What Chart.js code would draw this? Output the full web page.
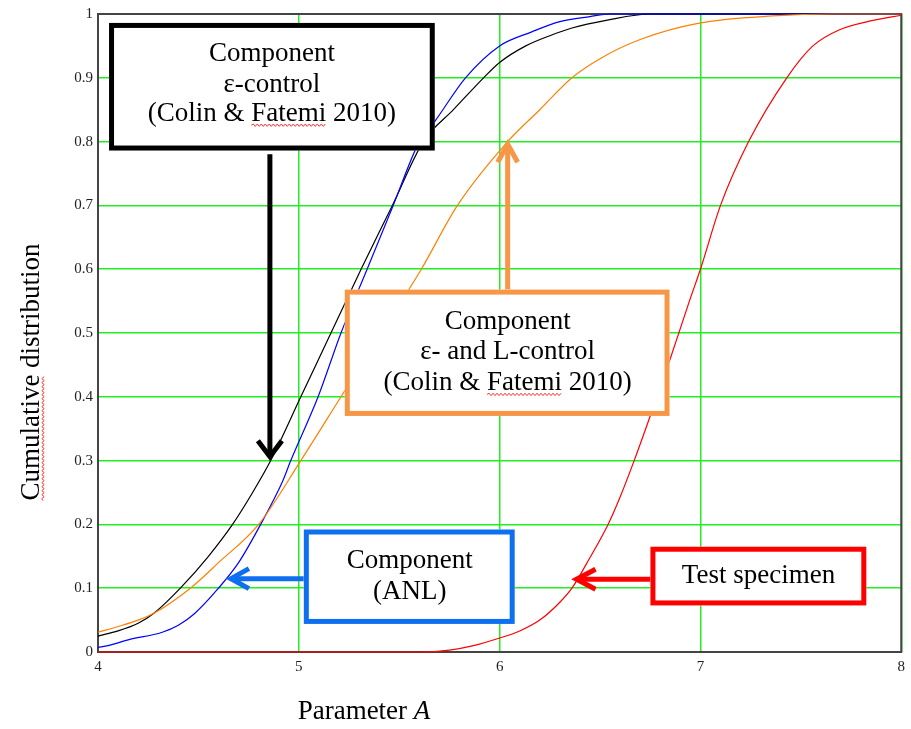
<!DOCTYPE html>
<html><head><meta charset="utf-8">
<script src="https://cdn.jsdelivr.net/npm/chart.js@4/dist/chart.umd.min.js"></script>
<style>html,body{margin:0;padding:0;background:#fff}#wrap{width:911px;height:729px}</style>
</head><body><div id="wrap"><canvas id="c" width="911" height="729"></canvas></div>
<script>
// ---- data ----
const xTickValues = [4, 5, 6, 7, 8];
const yTickValues = [0, 0.1, 0.2, 0.3, 0.4, 0.5, 0.6, 0.7, 0.8, 0.9, 1];

const blackX = [4.0, 4.1, 4.2, 4.28, 4.41, 4.55, 4.67, 4.77, 4.86, 5.01, 5.16, 5.31, 5.466, 5.62, 5.77, 5.92, 6.0, 6.13, 6.25, 6.36, 6.53, 6.75, 8.0];
const blackY = [0.025, 0.033, 0.045, 0.061, 0.10, 0.15, 0.20, 0.25, 0.30, 0.40, 0.50, 0.60, 0.70, 0.80, 0.85, 0.90, 0.924, 0.95, 0.966, 0.978, 0.99, 1.0, 1.0];

const blueX = [4.0, 4.05, 4.15, 4.32, 4.4, 4.48, 4.6, 4.7, 4.81, 4.92, 4.96, 5.096, 5.21, 5.34, 5.47, 5.60, 5.68, 5.83, 6.0, 6.16, 6.3, 6.45, 6.55, 8.0];
const blueY = [0.007, 0.01, 0.019, 0.031, 0.042, 0.06, 0.10, 0.14, 0.20, 0.268, 0.30, 0.40, 0.50, 0.60, 0.70, 0.80, 0.833, 0.90, 0.95, 0.972, 0.988, 0.996, 1.0, 1.0];

const orangeX = [4.0, 4.1, 4.2, 4.28, 4.46, 4.6, 4.8, 5.01, 5.21, 5.41, 5.61, 5.79, 6.04, 6.2, 6.36, 6.5, 6.7, 7.0, 7.36, 7.66, 8.0];
const orangeY = [0.031, 0.04, 0.05, 0.061, 0.10, 0.14, 0.20, 0.30, 0.40, 0.50, 0.60, 0.70, 0.80, 0.85, 0.90, 0.93, 0.96, 0.986, 0.997, 1.0, 1.0];

const redX = [4.0, 5.61, 5.75, 5.87, 6.0, 6.1, 6.2, 6.3, 6.36, 6.45, 6.54, 6.6, 6.67, 6.75, 6.85, 6.945, 7.0, 7.1, 7.24, 7.43, 7.56, 7.69, 7.86, 8.0];
const redY = [0, 0, 0.003, 0.01, 0.022, 0.033, 0.05, 0.078, 0.10, 0.148, 0.20, 0.243, 0.30, 0.37, 0.46, 0.55, 0.60, 0.70, 0.80, 0.90, 0.95, 0.975, 0.99, 0.998];

const xTitle = 'Parameter ';
const xTitleItalic = 'A';
const yTitle = 'Cumulative distribution';

// ---- annotation layout (data coordinates) ----
const notes = [
  {color: '#000000', box: [4.055, 5.677, 0.986, 0.786], textX: 4.866,
   lines: ['Component', 'ε-control', '(Colin & Fatemi 2010)'], base: [0.927, 0.878, 0.832],
   from: [4.856, 0.780], to: [4.856, 0.303], head: [18, 12], squiggle: [2, '(Colin & ', 'Fatemi']},
  {color: '#F79646', box: [5.229, 6.846, 0.568, 0.370], textX: 6.04,
   lines: ['Component', 'ε- and L-control', '(Colin & Fatemi 2010)'], base: [0.507, 0.459, 0.410],
   from: [6.04, 0.568], to: [6.04, 0.799], head: [20, 10], squiggle: [2, '(Colin & ', 'Fatemi']},
  {color: '#0E6FF0', box: [5.025, 6.075, 0.192, 0.044], textX: 5.552,
   lines: ['Component', '(ANL)'], base: [0.131, 0.083],
   from: [5.025, 0.115], to: [4.652, 0.115], head: [20, 10]},
  {color: '#FF0000', box: [6.751, 7.826, 0.165, 0.073], textX: 7.289,
   lines: ['Test specimen'], base: [0.108],
   from: [6.751, 0.114], to: [6.373, 0.114], head: [21, 10]}
];

const SERIF = '"Liberation Serif", "Times New Roman", serif';

function pts(xs, ys) { return xs.map((x, i) => ({x: x, y: ys[i]})); }

function squiggle(ctx, x0, x1, y) {
  ctx.save();
  ctx.strokeStyle = '#ff3030';
  ctx.lineWidth = 1;
  ctx.beginPath();
  let up = true;
  ctx.moveTo(x0, y);
  for (let x = x0 + 2; x <= x1; x += 2) {
    ctx.lineTo(x, y + (up ? -1.2 : 1.2));
    up = !up;
  }
  ctx.stroke();
  ctx.restore();
}

const frame = {
  id: 'frame',
  beforeDatasetsDraw(chart) {
    const {ctx, chartArea: a} = chart;
    ctx.save();
    ctx.strokeStyle = '#444';
    ctx.lineWidth = 2;
    ctx.strokeRect(a.left, a.top, a.right - a.left, a.bottom - a.top);
    ctx.restore();
  }
};

const annot = {
  id: 'annot',
  afterDatasetsDraw(chart) {
    const {ctx} = chart;
    const xs = chart.scales.x, ys = chart.scales.y;
    notes.forEach(n => {
      ctx.save();
      const lw = 5;
      const fx = xs.getPixelForValue(n.from[0]), fy = ys.getPixelForValue(n.from[1]);
      const tx = xs.getPixelForValue(n.to[0]), ty = ys.getPixelForValue(n.to[1]);
      const len = Math.hypot(tx - fx, ty - fy);
      const dx = (tx - fx) / len, dy = (ty - fy) / len;
      const px = -dy, py = dx;
      ctx.strokeStyle = n.color;
      ctx.lineWidth = lw;
      ctx.lineCap = 'butt';
      ctx.beginPath();
      ctx.moveTo(fx, fy);
      ctx.lineTo(tx - dx * 3, ty - dy * 3);
      ctx.stroke();
      const along = n.head[0], side = n.head[1];
      ctx.lineJoin = 'miter';
      ctx.beginPath();
      ctx.moveTo(tx - dx * along + px * side, ty - dy * along + py * side);
      ctx.lineTo(tx - dx * 2, ty - dy * 2);
      ctx.lineTo(tx - dx * along - px * side, ty - dy * along - py * side);
      ctx.stroke();
      const l = xs.getPixelForValue(n.box[0]), r = xs.getPixelForValue(n.box[1]);
      const t = ys.getPixelForValue(n.box[2]), b = ys.getPixelForValue(n.box[3]);
      ctx.fillStyle = '#ffffff';
      ctx.fillRect(l, t, r - l, b - t);
      ctx.strokeRect(l + lw / 2, t + lw / 2, r - l - lw, b - t - lw);
      ctx.fillStyle = '#000';
      ctx.font = '27px ' + SERIF;
      ctx.textAlign = 'center';
      ctx.textBaseline = 'alphabetic';
      const cx = xs.getPixelForValue(n.textX);
      n.lines.forEach((s, i) => {
        ctx.fillText(s, cx, ys.getPixelForValue(n.base[i]));
      });
      if (n.squiggle) {
        const [li, pre, word] = n.squiggle;
        const full = ctx.measureText(n.lines[li]).width;
        const sx = cx - full / 2 + ctx.measureText(pre).width;
        squiggle(ctx, sx, sx + ctx.measureText(word).width, ys.getPixelForValue(n.base[li]) + 4);
      }
      ctx.restore();
    });
  },
  afterDraw(chart) {
    const {ctx, chartArea: a} = chart;
    ctx.save();
    ctx.fillStyle = '#000';
    ctx.textBaseline = 'alphabetic';
    ctx.font = '27px ' + SERIF;
    const w1 = ctx.measureText(xTitle).width;
    ctx.font = 'italic 27px ' + SERIF;
    const w2 = ctx.measureText(xTitleItalic).width;
    const startX = a.left + 266 - (w1 + w2) / 2;
    const by = a.bottom + 67;
    ctx.textAlign = 'left';
    ctx.font = '27px ' + SERIF;
    ctx.fillText(xTitle, startX, by);
    ctx.font = 'italic 27px ' + SERIF;
    ctx.fillText(xTitleItalic, startX + w1, by);
    ctx.font = '27px ' + SERIF;
    ctx.translate(a.left - 59, a.top + 358);
    ctx.rotate(-Math.PI / 2);
    ctx.textAlign = 'center';
    ctx.fillText(yTitle, 0, 0);
    const tw = ctx.measureText(yTitle).width;
    const cw = ctx.measureText('Cumulative').width;
    squiggle(ctx, -tw / 2, -tw / 2 + cw, 4);
    ctx.restore();
  }
};

const line = (data, color) => ({
  data: data, borderColor: color, backgroundColor: color, borderWidth: 1.2,
  pointRadius: 0, fill: false, cubicInterpolationMode: 'monotone', clip: false
});

new Chart(document.getElementById('c'), {
  type: 'line',
  data: {
    datasets: [
      line(pts(redX, redY), '#ff0000'),
      line(pts(orangeX, orangeY), '#ff8000'),
      line(pts(blueX, blueY), '#0000ff'),
      line(pts(blackX, blackY), '#000000')
    ]
  },
  options: {
    responsive: false,
    animation: false,
    devicePixelRatio: 1,
    layout: {padding: {left: 0, top: 11, right: 9, bottom: 0}},
    plugins: {legend: {display: false}, tooltip: {enabled: false}},
    scales: {
      x: {
        type: 'linear', min: 4, max: 8,
        afterBuildTicks: s => { s.ticks = xTickValues.map(v => ({value: v})); },
        afterFit: s => { s.height = 77; },
        grid: {color: '#22ee22', lineWidth: 1.5, drawTicks: false},
        border: {display: false},
        ticks: {color: '#222', padding: 6, font: {family: SERIF, size: 15}, maxRotation: 0,
                callback: v => String(v)}
      },
      y: {
        type: 'linear', min: 0, max: 1,
        afterBuildTicks: s => { s.ticks = yTickValues.map(v => ({value: v})); },
        afterFit: s => { s.width = 98; },
        grid: {color: '#22ee22', lineWidth: 1.5, drawTicks: false},
        border: {display: false},
        ticks: {color: '#222', padding: 5, font: {family: SERIF, size: 15},
                callback: v => String(Math.round(v * 10) / 10)}
      }
    }
  },
  plugins: [frame, annot]
});
</script>
</body></html>
